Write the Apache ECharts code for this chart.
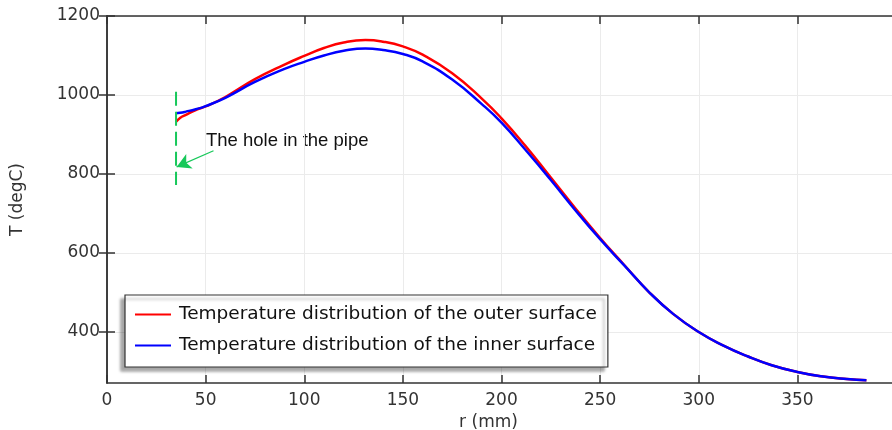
<!DOCTYPE html>
<html>
<head>
<meta charset="utf-8">
<script src="https://cdn.jsdelivr.net/npm/echarts@6/dist/echarts.min.js"></script>
<style>
  html, body { margin: 0; padding: 0; background: #fff; }
  #chart { width: 892px; height: 430px; }
</style>
</head>
<body>
<div id="chart"></div>
<script>
// radius positions (mm) along the pipe
const radius = [35, 37, 40, 45, 50, 60, 75, 90, 100, 110, 120, 131, 140, 150, 160, 175, 190, 200, 212, 225, 237, 250, 262, 275, 287, 300, 312, 325, 337, 350, 362, 375, 385];
const outerTemp = [932, 942, 950, 962, 971, 995, 1040, 1077, 1099, 1119, 1133, 1139, 1135, 1123, 1102, 1055, 991, 941, 872, 791, 716, 638, 571, 500, 446, 400, 367, 338, 316, 299, 288, 281, 278];
const innerTemp = [954, 955, 958, 964, 972, 993, 1033, 1066, 1084, 1100, 1112, 1118, 1114, 1104, 1085, 1039, 977, 930, 862, 785, 711, 635, 570, 500, 446, 400, 367, 338, 316, 299, 288, 281, 278];

// hole marker (dashed vertical line) and the arrow pointing at it
const holeLine = [[35, 1008], [35, 772]];
const arrowFrom = [54, 859];
const arrowTo = [35.3, 818];

const yTicks = [400, 600, 800, 1000, 1200];
const seriesNames = ["Temperature distribution of the outer surface", "Temperature distribution of the inner surface"];

const AXIS = "#333";
const FONT = "DejaVu Sans";
const GREEN = "#17c85a";

const chart = echarts.init(document.getElementById("chart"));

const tickStyle = { inside: true, length: 8, lineStyle: { color: AXIS, width: 1.5 } };

chart.setOption({
  animation: false,
  grid: { left: 107, top: 16, right: -4, bottom: 47, containLabel: false, outerBoundsMode: "none" },
  legend: {
    data: seriesNames,
    orient: "vertical",
    left: 125,
    top: 295,
    padding: [10, 11, 12, 10],
    itemGap: 12,
    itemWidth: 36,
    itemHeight: 2,
    icon: "rect",
    backgroundColor: "#fff",
    borderColor: "#333",
    borderWidth: 1.2,
    shadowColor: "rgba(0,0,0,0.35)",
    shadowBlur: 3,
    shadowOffsetX: -4,
    shadowOffsetY: 4,
    textStyle: { fontFamily: FONT, fontSize: 18.5, color: "#111", padding: [0, 0, 0, 3] }
  },
  xAxis: [
    {
      type: "value",
      min: 0,
      max: 400,
      interval: 50,
      name: "r (mm)",
      nameLocation: "middle",
      nameGap: 27,
      nameTextStyle: { fontFamily: FONT, fontSize: 17, color: "#333", padding: [0, 26, 0, 0] },
      axisLine: { lineStyle: { color: AXIS, width: 1.5 } },
      axisTick: tickStyle,
      axisLabel: { fontFamily: FONT, fontSize: 17, color: "#333", margin: 9, showMaxLabel: false },
      splitLine: { show: true, lineStyle: { color: "#ebebeb", width: 1 } }
    },
    {
      type: "value",
      position: "top",
      min: 0,
      max: 400,
      interval: 50,
      axisLine: { lineStyle: { color: AXIS, width: 1.5 } },
      axisTick: tickStyle,
      axisLabel: { show: false },
      splitLine: { show: false }
    }
  ],
  yAxis: [
    {
      type: "value",
      min: 271,
      max: 1200,
      name: "T (degC)",
      nameLocation: "middle",
      nameGap: 81,
      nameTextStyle: { fontFamily: FONT, fontSize: 17, color: "#333" },
      axisLine: { show: true, lineStyle: { color: AXIS, width: 1.5 } },
      axisTick: Object.assign({ customValues: yTicks }, tickStyle),
      axisLabel: {
        customValues: yTicks,
        formatter: (v) => String(v),
        fontFamily: FONT,
        fontSize: 17,
        color: "#333",
        margin: 7,
        padding: [4, 0, 0, 0]
      },
      splitLine: { show: true, lineStyle: { color: "#ebebeb", width: 1 } }
    },
    {
      type: "value",
      position: "right",
      min: 271,
      max: 1200,
      axisLine: { show: true, lineStyle: { color: AXIS, width: 1.5 } },
      axisTick: Object.assign({ customValues: yTicks }, tickStyle),
      axisLabel: { show: false },
      splitLine: { show: false }
    }
  ],
  graphic: [
    {
      type: "text",
      left: 206,
      top: 131,
      style: { text: "The hole in the pipe", font: "18.5px 'Liberation Sans', Arial, sans-serif", fill: "#111" }
    }
  ],
  series: [
    {
      name: seriesNames[0],
      type: "line",
      smooth: 0.5,
      symbol: "none",
      color: "#ff0000",
      lineStyle: { color: "#ff0000", width: 2.5 },
      data: radius.map((r, i) => [r, outerTemp[i]]),
      z: 3
    },
    {
      name: seriesNames[1],
      type: "line",
      smooth: 0.5,
      symbol: "none",
      color: "#0000ff",
      lineStyle: { color: "#0000ff", width: 2.5 },
      data: radius.map((r, i) => [r, innerTemp[i]]),
      z: 4
    },
    {
      name: "hole",
      type: "line",
      symbol: "none",
      lineStyle: { color: GREEN, width: 2, type: [14, 6] },
      data: holeLine,
      z: 5,
      markLine: {
        silent: true,
        animation: false,
        symbol: ["none", "arrow"],
        symbolSize: [12, 14],
        label: { show: false },
        lineStyle: { color: GREEN, width: 1.2, type: "solid" },
        data: [[{ coord: arrowFrom }, { coord: arrowTo }]]
      }
    }
  ]
});
</script>
</body>
</html>
